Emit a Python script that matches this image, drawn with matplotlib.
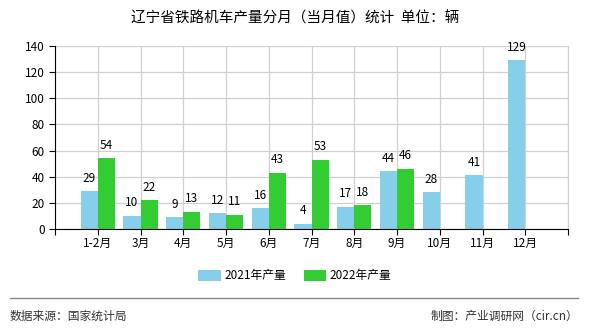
import numpy as np
import matplotlib.pyplot as plt

plt.rcParams['font.family'] = ['Noto Sans CJK SC', 'DejaVu Sans']

# data
months = ['1-2月', '3月', '4月', '5月', '6月', '7月', '8月', '9月', '10月', '11月', '12月']
prod_2021 = [29, 10, 9, 12, 16, 4, 17, 44, 28, 41, 129]
prod_2022 = [54, 22, 13, 11, 43, 53, 18, 46]
c2021 = '#87CEEB'
c2022 = '#33CC33'

fig = plt.figure(figsize=(5.9, 3.3), dpi=100)
ax = fig.add_axes([55 / 590, 1 - 229 / 330, (568 - 55) / 590, (229 - 46) / 330])

x = np.arange(len(months))
w = 0.4
ax.bar(x[:len(prod_2021)] - w / 2, prod_2021, w, color=c2021, label='2021年产量', zorder=3)
ax.bar(x[:len(prod_2022)] + w / 2, prod_2022, w, color=c2022, label='2022年产量', zorder=3)

for xi, v in zip(x, prod_2021):
    ax.text(xi - w / 2, v + 5, str(v), ha='center', va='bottom', fontsize=8.5)
for xi, v in zip(x, prod_2022):
    ax.text(xi + w / 2, v + 5, str(v), ha='center', va='bottom', fontsize=8.5)

ax.set_xlim(-1, len(months))
ax.set_ylim(0, 140)
ax.set_yticks(range(0, 141, 20))
ax.set_xticks(np.arange(-1, len(months) + 1))
ax.set_xticklabels([''] + months + [''])
ax.tick_params(axis='both', labelsize=8.5, length=4, color='black')
ax.tick_params(axis='x', pad=2)
ax.grid(True, color='#d0d0d0', linewidth=0.9, zorder=0)
for s in ['top', 'right']:
    ax.spines[s].set_color('#d0d0d0')
for s in ['left', 'bottom']:
    ax.spines[s].set_color('black')
    ax.spines[s].set_zorder(4)

fig.text(0.5, 1 - 18 / 330, '辽宁省铁路机车产量分月（当月值）统计  单位：辆',
         ha='center', va='center', fontsize=10.5)

fig.legend(loc='center', bbox_to_anchor=(0.5, 1 - 276 / 330), ncol=2, frameon=False,
           fontsize=8.5, handlelength=1.9, handleheight=1.0, columnspacing=1.5,
           handletextpad=0.3)

fig.add_artist(plt.Line2D([10 / 590, 578 / 590], [1 - 298 / 330] * 2, color='#888888', linewidth=1))
fig.text(10 / 590, 1 - 316 / 330, '数据来源：国家统计局', ha='left', va='center', fontsize=8.5, color='#333333')
fig.text(578 / 590, 1 - 316 / 330, '制图：产业调研网（cir.cn）', ha='right', va='center', fontsize=8.5, color='#333333')

fig.savefig('out.png', dpi=100)
